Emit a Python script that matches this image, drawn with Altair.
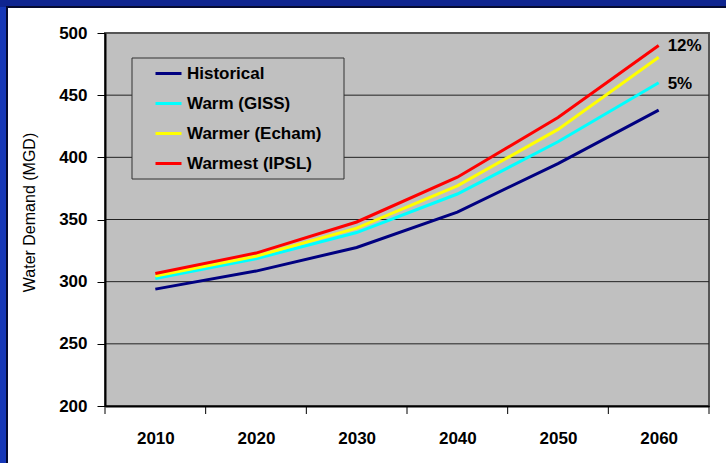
import altair as alt
import pandas as pd

years = [2010, 2020, 2030, 2040, 2050, 2060]
series_names = ["Historical", "Warm (GISS)", "Warmer (Echam)", "Warmest (IPSL)"]
historical = [294, 308.5, 327.5, 356, 395, 438]
warm = [302.5, 318.5, 339.5, 370.5, 412.5, 460]
warmer = [304.5, 320.5, 343, 377, 422.5, 480.5]
warmest = [306.5, 323, 348, 384, 432, 490]
colors = ["#000080", "#00FFFF", "#FFFF00", "#FF0000"]
y_ticks = [200, 250, 300, 350, 400, 450, 500]
grid_values = [250, 300, 350, 400, 450]
x_boundaries = [2005, 2015, 2025, 2035, 2045, 2055, 2065]
ann_labels = ["12%", "5%"]
ann_series = ["Warmest (IPSL)", "Warm (GISS)"]

W, H = 604, 373
FONT = "Liberation Sans"

all_series = [historical, warm, warmer, warmest]
rows = []
for name, vals in zip(series_names, all_series):
    for yr, v in zip(years, vals):
        rows.append({"year": yr, "value": v, "series": name})
df = pd.DataFrame(rows)

ann_rows = []
for lab, s in zip(ann_labels, ann_series):
    v = all_series[series_names.index(s)][years.index(2060)]
    ann_rows.append({"year": 2060, "value": v, "label": lab})
ann_df = pd.DataFrame(ann_rows)

xscale = alt.Scale(domain=[2005, 2065], nice=False, zero=False)
yscale = alt.Scale(domain=[200, 500], nice=False, zero=False)

x_axis = alt.Axis(values=years, format="d", title=None, ticks=False,
                  labelPadding=24, labelFontSize=17, labelFont=FONT,
                  labelFontWeight="bold", labelColor="black",
                  domainColor="black", domainWidth=2, grid=False, zindex=1)
y_axis = alt.Axis(values=y_ticks, title="Water Demand (MGD)", tickSize=8,
                  tickColor="black", tickWidth=1, labelPadding=10,
                  labelFontSize=17, labelFont=FONT, labelFontWeight="bold",
                  labelColor="black", domainColor="black", domainWidth=2,
                  grid=False, zindex=1, titleFont=FONT, titleFontSize=16,
                  titleFontWeight="normal", titleColor="black",
                  titleX=-76, titleY=179, titleBaseline="middle", titleAngle=270)

one = alt.Data(values=[{"a": 1}])

blue_left = alt.Chart(one).mark_rect(fill="#1638b8").encode(
    x=alt.value(-105), x2=alt.value(-98), y=alt.value(-33), y2=alt.value(H + 57)
)
blue_top = alt.Chart(one).mark_rect(fill="#0f2590").encode(
    x=alt.value(-105), x2=alt.value(W + 17), y=alt.value(-33), y2=alt.value(-26)
)
shadow_left = alt.Chart(one).mark_rect(fill="#050a30").encode(
    x=alt.value(-99), x2=alt.value(-97), y=alt.value(-27), y2=alt.value(H + 57)
)
shadow_top = alt.Chart(one).mark_rect(fill="#050a30").encode(
    x=alt.value(-99), x2=alt.value(W + 17), y=alt.value(-27), y2=alt.value(-25)
)

plot_bg = alt.Chart(one).mark_rect(fill="#C0C0C0", stroke="#555555", strokeWidth=2).encode(
    x=alt.value(0), x2=alt.value(W), y=alt.value(0), y2=alt.value(H)
)

grid = alt.Chart(pd.DataFrame({"v": grid_values})).mark_rule(color="#222222", strokeWidth=1).encode(
    y=alt.Y("v:Q", scale=yscale, axis=y_axis),
    x=alt.value(0), x2=alt.value(W),
)

xticks = alt.Chart(pd.DataFrame({"yr": x_boundaries})).mark_rule(color="black", strokeWidth=1).encode(
    x=alt.X("yr:Q", scale=xscale, axis=x_axis),
    y=alt.value(H), y2=alt.value(H + 8),
)

legend_box = alt.Chart(one).mark_rect(fill="#C0C0C0", stroke="#333333", strokeWidth=1).encode(
    x=alt.value(27), x2=alt.value(239), y=alt.value(25), y2=alt.value(146)
)

lines = alt.Chart(df).mark_line(strokeWidth=3).encode(
    x=alt.X("year:Q", scale=xscale, axis=x_axis),
    y=alt.Y("value:Q", scale=yscale, axis=y_axis),
    color=alt.Color("series:N", sort=series_names,
                    scale=alt.Scale(domain=series_names, range=colors),
                    legend=alt.Legend(title=None, orient="none", legendX=49, legendY=26,
                                      padding=0, symbolType="stroke", symbolSize=676,
                                      symbolStrokeWidth=3, labelFontSize=17,
                                      labelFont=FONT, labelFontWeight="bold",
                                      labelColor="black", labelOffset=4, rowPadding=7)),
    order=alt.Order("year:Q"),
)

ann = alt.Chart(ann_df).mark_text(align="left", baseline="middle", dx=9, dy=1,
                                  fontSize=17, font=FONT, fontWeight="bold",
                                  color="black").encode(
    x=alt.X("year:Q", scale=xscale, axis=x_axis),
    y=alt.Y("value:Q", scale=yscale, axis=y_axis),
    text="label:N",
)

chart = alt.layer(blue_left, blue_top, shadow_left, shadow_top, plot_bg, grid,
                  xticks, legend_box, lines, ann).properties(
    width=W, height=H,
    autosize=alt.AutoSizeParams(type="none"),
    padding={"left": 105, "top": 33, "right": 17, "bottom": 57},
    background="white",
).configure_view(stroke=None)

chart.save("out.html", embed_options={"renderer": "svg", "actions": False})
